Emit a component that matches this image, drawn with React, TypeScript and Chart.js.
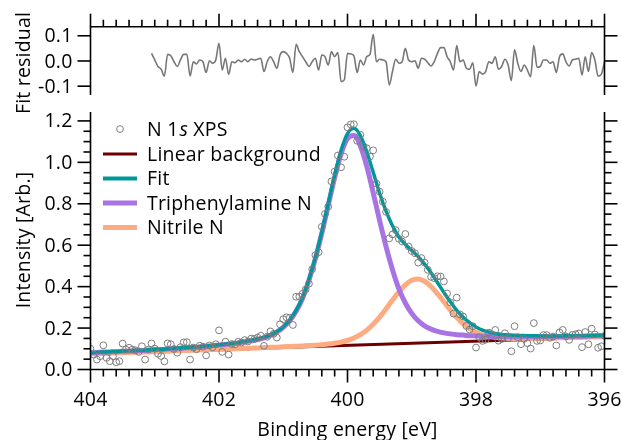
import React, { useEffect, useRef } from "react";
import { Chart, registerables } from "chart.js";

Chart.register(...registerables);

const FONT = "'Open Sans', Roboto, 'DejaVu Sans', sans-serif";

// Measured N 1s spectrum (binding energy in eV, intensity in arb. units)
const scatterEnergy = [
  404.0, 403.95, 403.9, 403.85, 403.8, 403.75, 403.7, 403.65, 403.6, 403.55,
  403.5, 403.45, 403.4, 403.35, 403.3, 403.25, 403.2, 403.15, 403.1, 403.05,
  403.0, 402.95, 402.9, 402.85, 402.8, 402.75, 402.7, 402.65, 402.6, 402.55,
  402.5, 402.45, 402.4, 402.35, 402.3, 402.25, 402.2, 402.15, 402.1, 402.05,
  402.0, 401.95, 401.9, 401.85, 401.8, 401.75, 401.7, 401.65, 401.6, 401.55,
  401.5, 401.45, 401.4, 401.35, 401.3, 401.25, 401.2, 401.15, 401.1, 401.05,
  401.0, 400.95, 400.9, 400.85, 400.8, 400.75, 400.7, 400.65, 400.6, 400.55,
  400.5, 400.45, 400.4, 400.35, 400.3, 400.25, 400.2, 400.15, 400.1, 400.05,
  400.0, 399.95, 399.9, 399.85, 399.8, 399.75, 399.7, 399.65, 399.6, 399.55,
  399.5, 399.45, 399.4, 399.35, 399.3, 399.25, 399.2, 399.15, 399.1, 399.05,
  399.0, 398.95, 398.9, 398.85, 398.8, 398.75, 398.7, 398.65, 398.6, 398.55,
  398.5, 398.45, 398.4, 398.35, 398.3, 398.25, 398.2, 398.15, 398.1, 398.05,
  398.0, 397.95, 397.9, 397.85, 397.8, 397.75, 397.7, 397.65, 397.6, 397.55,
  397.5, 397.45, 397.4, 397.35, 397.3, 397.25, 397.2, 397.15, 397.1, 397.05,
  397.0, 396.95, 396.9, 396.85, 396.8, 396.75, 396.7, 396.65, 396.6, 396.55,
  396.5, 396.45, 396.4, 396.35, 396.3, 396.25, 396.2, 396.15, 396.1, 396.05,
  396.0,
];

const scatterIntensity = [
  0.1, 0.072, 0.048, 0.064, 0.117, 0.056, 0.04, 0.064, 0.035, 0.04,
  0.125, 0.096, 0.105, 0.096, 0.093, 0.085, 0.112, 0.048, 0.096,
  0.126, 0.101, 0.076, 0.065, 0.039, 0.126, 0.122, 0.099, 0.081, 0.108,
  0.131, 0.132, 0.048, 0.106, 0.098, 0.115, 0.11, 0.068, 0.116, 0.107,
  0.122, 0.189, 0.085, 0.134, 0.072, 0.123, 0.121, 0.134, 0.13, 0.142,
  0.135, 0.149, 0.148, 0.154, 0.163, 0.114, 0.158, 0.184, 0.172, 0.154,
  0.218, 0.243, 0.252, 0.25, 0.215, 0.351, 0.352, 0.365, 0.387, 0.414,
  0.484, 0.552, 0.566, 0.689, 0.751, 0.786, 0.908, 0.955, 1.033, 0.976,
  1.027, 1.169, 1.183, 1.184, 1.104, 1.133, 1.077, 1.068, 1.028, 1.058,
  0.898, 0.858, 0.81, 0.761, 0.633, 0.652, 0.673, 0.631, 0.618, 0.654,
  0.594, 0.572, 0.561, 0.516, 0.538, 0.516, 0.481, 0.447, 0.441, 0.45,
  0.449, 0.425, 0.367, 0.324, 0.27, 0.347, 0.266, 0.256, 0.21, 0.193,
  0.209, 0.106, 0.156, 0.138, 0.144, 0.178, 0.169, 0.191, 0.139, 0.147,
  0.175, 0.151, 0.088, 0.209, 0.156, 0.122, 0.148, 0.127, 0.101, 0.224,
  0.138, 0.14, 0.166, 0.166, 0.153, 0.159, 0.116, 0.179, 0.191, 0.16,
  0.143, 0.167, 0.17, 0.174, 0.108, 0.181, 0.122, 0.197, 0.169, 0.105,
  0.112, 0.162,
];

// Fit residual (fit region starts at 403.05 eV)
const residualStartIndex = 19;
const residualValues = [
  0.03, 0.004, -0.022, -0.033, -0.06, 0.026, 0.021, -0.003, -0.022, 0.004,
  0.026, 0.026, -0.06, -0.003, -0.012, 0.004, -0.003, -0.046, 0.001, -0.009,
  0.004, 0.07, -0.036, 0.011, -0.053, -0.003, -0.007, 0.004, -0.003, 0.007,
  -0.003, 0.008, 0.004, 0.007, 0.011, -0.042, -0.003, 0.017, -0.003, -0.029,
  0.024, 0.037, 0.03, 0.011, -0.046, 0.066, 0.037, 0.017, -0.003, -0.022,
  -0.003, 0.011, -0.036, 0.024, 0.017, -0.016, 0.037, 0.017, 0.033, -0.082,
  -0.075, 0.03, 0.028, 0.02, -0.046, 0.004, -0.016, 0.017, 0.026, 0.106,
  -0.003, 0.007, 0.004, -0.003, -0.095, -0.042, 0.007, -0.009, -0.003, 0.05,
  0.004, -0.003, 0.001, -0.029, 0.011, 0.007, -0.007, -0.02, -0.003, 0.03,
  0.053, 0.053, 0.017, -0.003, -0.036, 0.061, -0.003, 0.004, -0.029, -0.033,
  -0.007, -0.099, -0.042, -0.052, -0.042, -0.003, -0.009, 0.017, -0.033, -0.022,
  0.007, -0.016, -0.078, 0.044, -0.009, -0.042, -0.016, -0.036, -0.062, 0.061,
  -0.025, -0.022, 0.004, 0.004, -0.009, -0.003, -0.046, 0.017, 0.028, -0.003,
  -0.02, 0.004, 0.007, 0.011, -0.056, 0.017, -0.042, 0.033, 0.004, -0.06,
  -0.053, -0.003,
];

// Model curves
const curveEnergy = [
  404.0, 403.9, 403.8, 403.7, 403.6, 403.5, 403.4, 403.3, 403.2, 403.1,
  403.0, 402.9, 402.8, 402.7, 402.6, 402.5, 402.4, 402.3, 402.2, 402.1,
  402.0, 401.9, 401.8, 401.7, 401.6, 401.5, 401.4, 401.3, 401.2, 401.1,
  401.0, 400.9, 400.8, 400.7, 400.6, 400.5, 400.4, 400.3, 400.2, 400.1,
  400.0, 399.9, 399.8, 399.7, 399.6, 399.5, 399.4, 399.3, 399.2, 399.1,
  399.0, 398.9, 398.8, 398.7, 398.6, 398.5, 398.4, 398.3, 398.2, 398.1,
  398.0, 397.9, 397.8, 397.7, 397.6, 397.5, 397.4, 397.3, 397.2, 397.1,
  397.0, 396.9, 396.8, 396.7, 396.6, 396.5, 396.4, 396.3, 396.2, 396.1,
  396.0,
];

const fitCurve = [
  0.082, 0.083, 0.084, 0.086, 0.087, 0.089, 0.09, 0.092, 0.093, 0.095,
  0.097, 0.098, 0.1, 0.102, 0.104, 0.106, 0.109, 0.111, 0.114, 0.116,
  0.119, 0.123, 0.126, 0.13, 0.135, 0.141, 0.147, 0.156, 0.167, 0.183,
  0.206, 0.239, 0.285, 0.348, 0.436, 0.541, 0.665, 0.802, 0.938, 1.058,
  1.139, 1.164, 1.129, 1.051, 0.952, 0.851, 0.764, 0.694, 0.64, 0.604,
  0.575, 0.545, 0.509, 0.467, 0.42, 0.372, 0.327, 0.286, 0.252, 0.226,
  0.205, 0.19, 0.181, 0.174, 0.169, 0.167, 0.165, 0.164, 0.163, 0.163,
  0.162, 0.162, 0.162, 0.162, 0.163, 0.163, 0.163, 0.164, 0.164, 0.165,
  0.165,
];

const triphenylamineCurve = [
  0.081, 0.082, 0.084, 0.085, 0.086, 0.088, 0.089, 0.091, 0.092, 0.094,
  0.096, 0.097, 0.099, 0.101, 0.103, 0.105, 0.107, 0.109, 0.112, 0.115,
  0.118, 0.121, 0.124, 0.128, 0.133, 0.138, 0.145, 0.153, 0.164, 0.18,
  0.203, 0.235, 0.281, 0.343, 0.431, 0.535, 0.657, 0.792, 0.926, 1.041,
  1.115, 1.129, 1.079, 0.981, 0.853, 0.719, 0.593, 0.482, 0.389, 0.321,
  0.271, 0.235, 0.211, 0.195, 0.184, 0.177, 0.172, 0.168, 0.166, 0.163,
  0.162, 0.16, 0.16, 0.159, 0.158, 0.158, 0.158, 0.158, 0.158, 0.158,
  0.158, 0.158, 0.159, 0.159, 0.16, 0.16, 0.161, 0.161, 0.162, 0.163,
  0.163,
];

const nitrileCurve = [
  0.076, 0.077, 0.078, 0.079, 0.08, 0.081, 0.082, 0.083, 0.084, 0.085,
  0.086, 0.087, 0.088, 0.09, 0.091, 0.092, 0.093, 0.094, 0.095, 0.096,
  0.097, 0.098, 0.1, 0.101, 0.102, 0.103, 0.104, 0.106, 0.107, 0.108,
  0.11, 0.111, 0.112, 0.114, 0.116, 0.117, 0.12, 0.123, 0.127, 0.132,
  0.14, 0.152, 0.168, 0.19, 0.219, 0.253, 0.293, 0.335, 0.375, 0.409,
  0.431, 0.437, 0.426, 0.401, 0.366, 0.327, 0.287, 0.252, 0.221, 0.198,
  0.18, 0.168, 0.16, 0.155, 0.152, 0.15, 0.15, 0.15, 0.15, 0.15,
  0.151, 0.152, 0.152, 0.153, 0.154, 0.155, 0.155, 0.156, 0.157, 0.158,
  0.159,
];

const backgroundEnergy = [404.0, 396.0];
const backgroundIntensity = [0.075, 0.157];

// Tick labels
const xTickValues = [404, 402, 400, 398, 396];
const xTickLabels = ["404", "402", "400", "398", "396"];
const yMainTickValues = [0, 0.2, 0.4, 0.6, 0.8, 1.0, 1.2];
const yMainTickLabels = ["0.0", "0.2", "0.4", "0.6", "0.8", "1.0", "1.2"];
const yResTickValues = [0.1, 0, -0.1];
const yResTickLabels = ["0.1", "0.0", "-0.1"];

const legendLabels = ["N 1s XPS", "Linear background", "Fit", "Triphenylamine N", "Nitrile N"];

const COLORS = {
  scatter: "#7d7d7d",
  residual: "#777777",
  background: "#6b0000",
  fit: "#00979a",
  triphenyl: "#a873e3",
  nitrile: "#ffab82",
};

const W = 622;
const H = 440;
const PLOT_LEFT = 90.5;
const PLOT_RIGHT = 604.5;
const RES_TOP = 26.7;
const RES_BOTTOM = 95;
const MAIN_TOP = 112;
const MAIN_BOTTOM = 369.5;
const AXIS_LW = 1.6;
const MAJOR = 13;
const MINOR = 7;
const FONT_PX = 19.5;
const TICK_FONT = `400 ${FONT_PX}px ${FONT}`;
const ITALIC_FONT = `italic 400 ${FONT_PX}px ${FONT}`;
const TEXT_COLOR = "#000";
const LETTER_SPACING = "0.2px";

function seg(ctx: CanvasRenderingContext2D, x1: number, y1: number, x2: number, y2: number) {
  ctx.beginPath();
  ctx.moveTo(x1, y1);
  ctx.lineTo(x2, y2);
  ctx.stroke();
}

function setText(ctx: any, font: string) {
  ctx.font = font;
  ctx.fillStyle = TEXT_COLOR;
  try {
    ctx.letterSpacing = LETTER_SPACING;
  } catch (e) {
    /* ignore */
  }
}

const residualAxesPlugin = {
  id: "residualAxes",
  afterDraw(chart: any) {
    const { ctx, chartArea: a, scales } = chart;
    const x = scales.x;
    const y = scales.y;
    ctx.save();
    ctx.strokeStyle = "#000";
    ctx.lineWidth = AXIS_LW;
    ctx.beginPath();
    ctx.moveTo(a.left, a.bottom);
    ctx.lineTo(a.left, a.top);
    ctx.lineTo(a.right, a.top);
    ctx.lineTo(a.right, a.bottom);
    ctx.stroke();
    for (let k = 0; k <= 40; k++) {
      const v = 396 + k * 0.2;
      const px = x.getPixelForValue(v);
      seg(ctx, px, a.top, px, a.top - (k % 10 === 0 ? MAJOR : MINOR));
    }
    setText(ctx, TICK_FONT);
    ctx.textAlign = "right";
    ctx.textBaseline = "middle";
    yResTickValues.forEach((v, i) => {
      const py = y.getPixelForValue(v);
      seg(ctx, a.left - MAJOR, py, a.left, py);
      seg(ctx, a.right, py, a.right + MAJOR, py);
      ctx.fillText(yResTickLabels[i], a.left - 18, py + 1);
    });
    ctx.translate(24, 63);
    ctx.rotate(-Math.PI / 2);
    ctx.textAlign = "center";
    ctx.fillText("Fit residual", 0, 0);
    ctx.restore();
  },
};

const mainAxesPlugin = {
  id: "mainAxes",
  afterDraw(chart: any) {
    const { ctx, chartArea: a, scales } = chart;
    const x = scales.x;
    const y = scales.y;
    ctx.save();
    ctx.strokeStyle = "#000";
    ctx.lineWidth = AXIS_LW;
    ctx.beginPath();
    ctx.moveTo(a.left, a.top);
    ctx.lineTo(a.left, a.bottom);
    ctx.lineTo(a.right, a.bottom);
    ctx.lineTo(a.right, a.top);
    ctx.stroke();
    for (let k = 0; k <= 40; k++) {
      const v = 396 + k * 0.2;
      const px = x.getPixelForValue(v);
      seg(ctx, px, a.bottom, px, a.bottom + (k % 10 === 0 ? MAJOR : MINOR));
    }
    for (let k = 0; k <= 24; k++) {
      const v = k * 0.05;
      const py = y.getPixelForValue(v);
      const len = k % 4 === 0 ? MAJOR : MINOR;
      seg(ctx, a.left - len, py, a.left, py);
      seg(ctx, a.right, py, a.right + len, py);
    }
    setText(ctx, TICK_FONT);
    ctx.textAlign = "right";
    ctx.textBaseline = "middle";
    yMainTickValues.forEach((v, i) => {
      const py = y.getPixelForValue(v);
      ctx.fillText(yMainTickLabels[i], a.left - 18, py + 1);
    });
    ctx.textAlign = "center";
    xTickValues.forEach((v, i) => {
      const px = x.getPixelForValue(v);
      ctx.fillText(xTickLabels[i], px, a.bottom + 31);
    });
    ctx.fillText("Binding energy [eV]", (a.left + a.right) / 2, 430);
    ctx.save();
    ctx.translate(24, 240);
    ctx.rotate(-Math.PI / 2);
    ctx.fillText("Intensity [Arb.]", 0, 0);
    ctx.restore();

    // legend
    const lx1 = 103;
    const lx2 = 137;
    const tx = 147;
    const rows = [129, 154, 178.5, 203, 227.5];
    ctx.textAlign = "left";
    ctx.textBaseline = "middle";
    setText(ctx, TICK_FONT);
    ctx.strokeStyle = COLORS.scatter;
    ctx.lineWidth = 1;
    ctx.beginPath();
    ctx.arc((lx1 + lx2) / 2, rows[0], 3.4, 0, Math.PI * 2);
    ctx.stroke();
    const p1 = "N 1";
    ctx.fillText(p1, tx, rows[0] + 1);
    let cx = tx + ctx.measureText(p1).width + 1;
    setText(ctx, ITALIC_FONT);
    ctx.fillText("s", cx, rows[0] + 1);
    cx += ctx.measureText("s").width;
    setText(ctx, TICK_FONT);
    ctx.fillText(" XPS", cx, rows[0] + 1);
    const lineStyles = [
      { c: COLORS.background, w: 3 },
      { c: COLORS.fit, w: 4 },
      { c: COLORS.triphenyl, w: 5 },
      { c: COLORS.nitrile, w: 5 },
    ];
    lineStyles.forEach((s, i) => {
      const ry = rows[i + 1];
      ctx.strokeStyle = s.c;
      ctx.lineWidth = s.w;
      ctx.lineCap = "butt";
      seg(ctx, lx1, ry, lx2, ry);
      ctx.fillText(legendLabels[i + 1], tx, ry + 1);
    });
    ctx.restore();
  },
};

function toXY(xs: number[], ys: number[]) {
  return ys.map((v, i) => ({ x: xs[i], y: v }));
}

const lineDs = (label: string, xs: number[], ys: number[], color: string, width: number) => ({
  type: "scatter" as const,
  label,
  data: toXY(xs, ys),
  showLine: true,
  borderColor: color,
  backgroundColor: color,
  borderWidth: width,
  pointRadius: 0,
  pointHoverRadius: 0,
  cubicInterpolationMode: "monotone" as const,
  borderJoinStyle: "round" as const,
  borderCapStyle: "butt" as const,
});

export default function App() {
  const resRef = useRef<HTMLCanvasElement | null>(null);
  const mainRef = useRef<HTMLCanvasElement | null>(null);

  useEffect(() => {
    if (!resRef.current || !mainRef.current) return;
    const residualEnergy = scatterEnergy.slice(residualStartIndex);
    const common = {
      responsive: false,
      animation: false as const,
      events: [] as any[],
      plugins: { legend: { display: false }, tooltip: { enabled: false } },
    };
    const resChart = new Chart(resRef.current, {
      type: "scatter",
      data: {
        datasets: [lineDs("Fit residual", residualEnergy, residualValues, COLORS.residual, 1.6)],
      },
      options: {
        ...common,
        layout: {
          padding: { left: PLOT_LEFT, right: W - PLOT_RIGHT, top: RES_TOP, bottom: H - RES_BOTTOM },
        },
        scales: {
          x: { type: "linear", min: 396, max: 404, reverse: true, display: false },
          y: { type: "linear", min: -0.135, max: 0.136, display: false },
        },
      } as any,
      plugins: [residualAxesPlugin],
    });

    const mainChart = new Chart(mainRef.current, {
      type: "scatter",
      data: {
        datasets: [
          {
            type: "scatter",
            label: legendLabels[0],
            data: toXY(scatterEnergy, scatterIntensity),
            pointRadius: 3.4,
            pointBorderWidth: 1,
            borderColor: COLORS.scatter,
            backgroundColor: "rgba(0,0,0,0)",
            pointStyle: "circle",
          },
          lineDs(legendLabels[2], curveEnergy, fitCurve, COLORS.fit, 3.5),
          lineDs(legendLabels[3], curveEnergy, triphenylamineCurve, COLORS.triphenyl, 5),
          lineDs(legendLabels[4], curveEnergy, nitrileCurve, COLORS.nitrile, 5),
          lineDs(legendLabels[1], backgroundEnergy, backgroundIntensity, COLORS.background, 3),
        ],
      },
      options: {
        ...common,
        layout: {
          padding: { left: PLOT_LEFT, right: W - PLOT_RIGHT, top: MAIN_TOP, bottom: H - MAIN_BOTTOM },
        },
        scales: {
          x: { type: "linear", min: 396, max: 404, reverse: true, display: false },
          y: { type: "linear", min: 0, max: 1.243, display: false },
        },
      } as any,
      plugins: [mainAxesPlugin],
    });

    return () => {
      resChart.destroy();
      mainChart.destroy();
    };
  }, []);

  const canvasStyle: React.CSSProperties = { position: "absolute", left: 0, top: 0, width: W, height: H };
  return (
    <div style={{ position: "absolute", left: 0, top: 0, width: W, height: H, background: "#fff" }}>
      <canvas ref={mainRef} width={W} height={H} style={canvasStyle} />
      <canvas ref={resRef} width={W} height={H} style={canvasStyle} />
    </div>
  );
}
